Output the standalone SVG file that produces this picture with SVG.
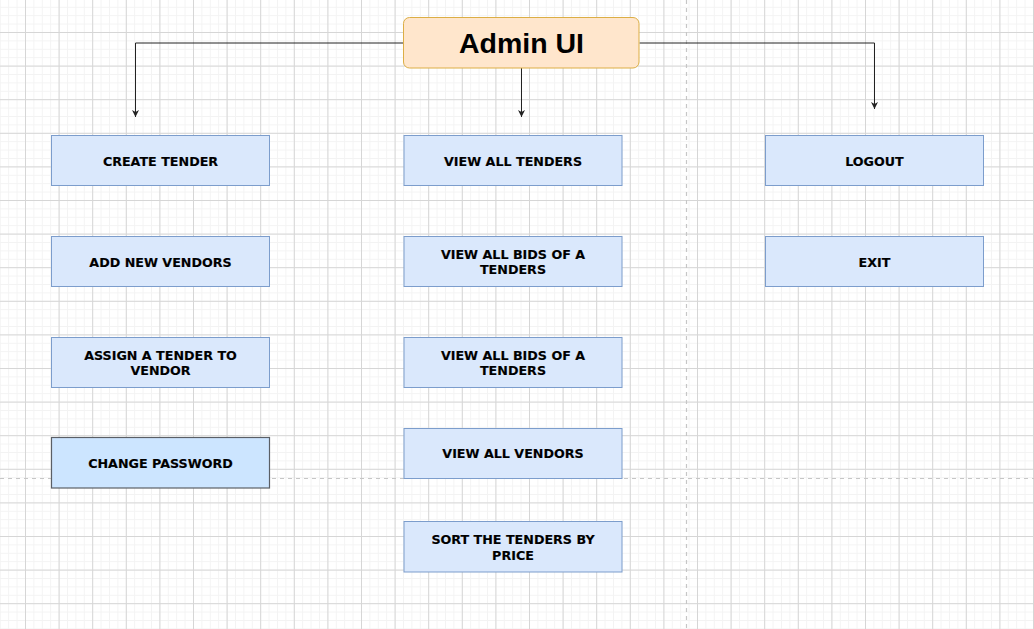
<svg xmlns="http://www.w3.org/2000/svg" width="1034" height="629" viewBox="0 0 1034 629">
<defs>
<pattern id="minor" x="25" y="32" width="8.4" height="8.4" patternUnits="userSpaceOnUse"><path d="M0 0.5H8.4M0.5 0V8.4" fill="none" stroke="#f3f3f3" stroke-width="1"/></pattern>
<pattern id="major" x="25" y="32" width="33.6" height="33.6" patternUnits="userSpaceOnUse"><path d="M0 0.5H33.6M0.5 0V33.6" fill="none" stroke="#d6d6d6" stroke-width="1"/></pattern>
<marker id="arr" markerWidth="8" markerHeight="8" refX="7" refY="4" orient="auto" markerUnits="userSpaceOnUse"><path d="M0,0.5 L7,4 L0,7.5 L2,4 Z" fill="#222"/></marker>
</defs>
<style>
.box{fill:#dae8fc;stroke:#7c9dcc;stroke-width:1}
.sel{fill:#cce5ff;stroke:#5a5f66;stroke-width:1.2}
.t{font-family:"DejaVu Sans",Verdana,sans-serif;font-weight:bold;font-size:12.7px;fill:#000;text-anchor:middle;stroke:#000;stroke-width:0.15}
.conn{fill:none;stroke:#222;stroke-width:1}
.pb{stroke:#c6c6c6;stroke-width:1.2;stroke-dasharray:4 4}
</style>
<rect width="1034" height="629" fill="#fff"/>
<rect width="1034" height="629" fill="url(#minor)"/>
<rect width="1034" height="629" fill="url(#major)"/>
<line class="pb" x1="686.5" y1="0" x2="686.5" y2="629"/>
<line class="pb" x1="0" y1="478.5" x2="1034" y2="478.5"/>
<g id="connectors">
<path class="conn" d="M403.5 43H135.5V117" marker-end="url(#arr)"/>
<path class="conn" d="M521.5 68V117" marker-end="url(#arr)"/>
<path class="conn" d="M639.5 43H874.5V109" marker-end="url(#arr)"/>
</g>
<g id="admin-ui"><rect x="403.5" y="17.5" width="235.5" height="50.5" rx="6" fill="#ffe6cc" stroke="#dcae45" stroke-width="1"/><text x="521.5" y="53" font-family="'Liberation Sans',Arial,sans-serif" font-weight="bold" font-size="28.5" text-anchor="middle">Admin UI</text></g>
<g id="create-tender"><rect class="box" x="51.5" y="135.5" width="218" height="50"/><text class="t" x="160.5" y="165.5">CREATE TENDER</text></g>
<g id="add-new-vendors"><rect class="box" x="51.5" y="236.5" width="218" height="50"/><text class="t" x="160.5" y="266.5">ADD NEW VENDORS</text></g>
<g id="assign-tender"><rect class="box" x="51.5" y="337.5" width="218" height="50"/><text class="t" x="160.5" y="359.5">ASSIGN A TENDER TO</text><text class="t" x="160.5" y="374.5">VENDOR</text></g>
<g id="change-password"><rect class="sel" x="51.5" y="437.5" width="218" height="50.5"/><text class="t" x="160.5" y="468">CHANGE PASSWORD</text></g>
<g id="view-all-tenders"><rect class="box" x="404" y="135.5" width="218" height="50"/><text class="t" x="513" y="165.5">VIEW ALL TENDERS</text></g>
<g id="view-bids-1"><rect class="box" x="404" y="236.5" width="218" height="50"/><text class="t" x="513" y="258.5">VIEW ALL BIDS OF A</text><text class="t" x="513" y="273.5">TENDERS</text></g>
<g id="view-bids-2"><rect class="box" x="404" y="337.5" width="218" height="50"/><text class="t" x="513" y="359.5">VIEW ALL BIDS OF A</text><text class="t" x="513" y="374.5">TENDERS</text></g>
<g id="view-all-vendors"><rect class="box" x="404" y="428.5" width="218" height="50"/><text class="t" x="513" y="458">VIEW ALL VENDORS</text></g>
<g id="sort-tenders"><rect class="box" x="404" y="521.5" width="218" height="50.5"/><text class="t" x="513" y="544">SORT THE TENDERS BY</text><text class="t" x="513" y="559.5">PRICE</text></g>
<g id="logout"><rect class="box" x="765.5" y="135.5" width="218" height="50"/><text class="t" x="874.5" y="165.5">LOGOUT</text></g>
<g id="exit"><rect class="box" x="765.5" y="236.5" width="218" height="50"/><text class="t" x="874.5" y="266.5">EXIT</text></g>
</svg>
